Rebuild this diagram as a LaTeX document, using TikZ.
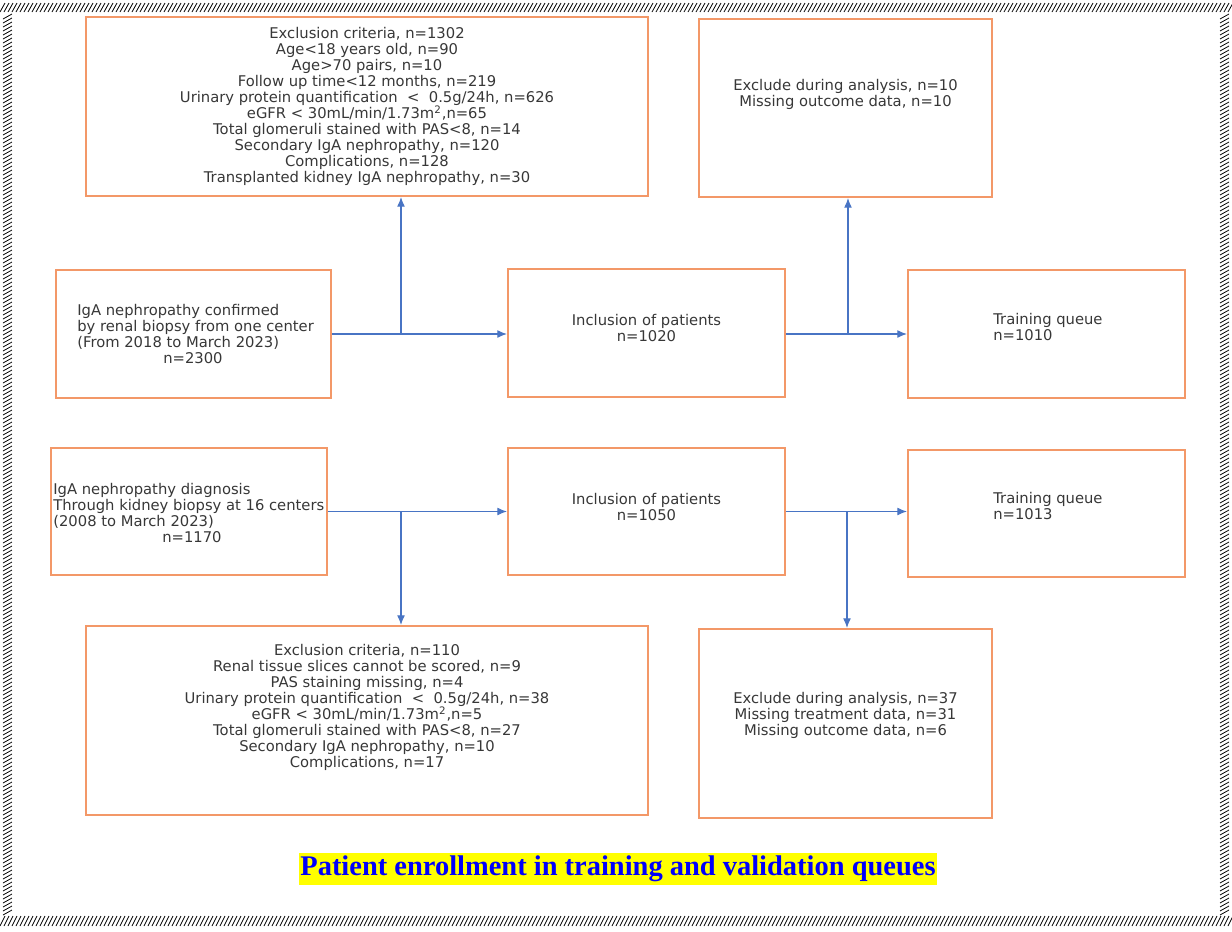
\documentclass[tikz,border=0pt]{standalone}
\usepackage{fontspec}
\setmainfont{DejaVu Sans}
\newfontfamily\titlefont{Liberation Serif}
\usetikzlibrary{arrows.meta}
\definecolor{boxorange}{RGB}{243,152,104}
\definecolor{arrowblue}{RGB}{72,116,196}
\definecolor{txtgrey}{RGB}{55,55,55}
\definecolor{titleblue}{RGB}{0,0,250}
\definecolor{titleyellow}{RGB}{255,255,0}
\tikzset{
  flowbox/.style={draw=boxorange, line width=1.2pt, inner sep=0pt},
  flowtext/.style={text=txtgrey, font=\fontsize{8.4}{9.1}\selectfont, align=center, inner sep=0pt},
  flowarrow/.style={draw=arrowblue, line width=0.6pt},
  hatch/.style={line width=0.45pt, black},
}
\begin{document}
\begin{tikzpicture}[>={Latex[length=5.5pt,width=4.5pt]}, x=0.02cm, y=-0.02cm]
\useasboundingbox (0,0) rectangle (1232,931);
% page border
\foreach \i in {0,4,...,1228} \draw [hatch] (\i,12)--(\i+5,3);
\foreach \i in {0,4,...,1228} \draw [hatch] (\i,926)--(\i+5,916);
\foreach \j in {14,18,...,910} \draw [hatch] (3,\j+5)--(12,\j);
\foreach \j in {14,18,...,910} \draw [hatch] (1220,\j+5)--(1229,\j);
% boxes
\node [flowbox, minimum width=11.24cm, minimum height=3.58cm] (excl1) at (367,106.5) {};
\node [flowbox, minimum width=5.86cm, minimum height=3.56cm] (anal1) at (845.5,108) {};
\node [flowbox, minimum width=5.5cm, minimum height=2.56cm] (src1) at (193.5,334) {};
\node [flowbox, minimum width=5.54cm, minimum height=2.56cm] (incl1) at (646.5,333) {};
\node [flowbox, minimum width=5.54cm, minimum height=2.56cm] (train1) at (1046.5,334) {};
\node [flowbox, minimum width=5.52cm, minimum height=2.54cm] (src2) at (189,511.5) {};
\node [flowbox, minimum width=5.54cm, minimum height=2.54cm] (incl2) at (646.5,511.5) {};
\node [flowbox, minimum width=5.54cm, minimum height=2.54cm] (train2) at (1046.5,513.5) {};
\node [flowbox, minimum width=11.24cm, minimum height=3.78cm] (excl2) at (367,720.5) {};
\node [flowbox, minimum width=5.86cm, minimum height=3.78cm] (anal2) at (845.5,723.5) {};
% texts
\node [flowtext] (excl1t) at (367,106) {Exclusion criteria, n=1302\\Age<18 years old, n=90\\Age>70 pairs, n=10\\Follow up time<12 months, n=219\\Urinary protein quantification \ < \ 0.5g/24h, n=626\\eGFR < 30mL/min/1.73m\textsuperscript{2},n=65\\Total glomeruli stained with PAS<8, n=14\\Secondary IgA nephropathy, n=120\\Complications, n=128\\Transplanted kidney IgA nephropathy, n=30};
\node [flowtext] (anal1t) at (845.5,94) {Exclude during analysis, n=10\\Missing outcome data, n=10};
\node [flowtext, anchor=west, align=left] (src1t) at (77,334) {IgA nephropathy confirmed\\by renal biopsy from one center\\(From 2018 to March 2023)\\\hspace*{1.72cm}n=2300};
\node [flowtext] (incl1t) at (646.5,328) {Inclusion of patients\\n=1020};
\node [flowtext, anchor=west, align=left] (train1t) at (993,327) {Training queue\\n=1010};
\node [flowtext, anchor=west, align=left] (src2t) at (53,513) {IgA nephropathy diagnosis\\Through kidney biopsy at 16 centers\\(2008 to March 2023)\\\hspace*{2.18cm}n=1170};
\node [flowtext] (incl2t) at (646.5,507) {Inclusion of patients\\n=1050};
\node [flowtext, anchor=west, align=left] (train2t) at (993,506) {Training queue\\n=1013};
\node [flowtext] (excl2t) at (367,707) {Exclusion criteria, n=110\\Renal tissue slices cannot be scored, n=9\\PAS staining missing, n=4\\Urinary protein quantification \ < \ 0.5g/24h, n=38\\eGFR < 30mL/min/1.73m\textsuperscript{2},n=5\\Total glomeruli stained with PAS<8, n=27\\Secondary IgA nephropathy, n=10\\Complications, n=17};
\node [flowtext] (anal2t) at (845.5,715) {Exclude during analysis, n=37\\Missing treatment data, n=31\\Missing outcome data, n=6};
% connectors
\coordinate (b1) at (401,334);
\coordinate (b2) at (848,334);
\coordinate (b3) at (401,511.5);
\coordinate (b4) at (847,512);
\draw [->, flowarrow] (src1.east)--(src1.east -| incl1.west);
\draw [->, flowarrow] (b1)--(b1 |- excl1.south);
\draw [->, flowarrow] (incl1.east |- train1.west)--(train1.west);
\draw [->, flowarrow] (b2)--(b2 |- anal1.south);
\draw [->, flowarrow] (src2.east)--(incl2.west);
\draw [->, flowarrow] (b3)--(b3 |- excl2.north);
\draw [->, flowarrow] (incl2.east)--(incl2.east -| train2.west);
\draw [->, flowarrow] (b4)--(b4 |- anal2.north);
% title
\node [fill=titleyellow, text=titleblue, font=\titlefont\bfseries\fontsize{16.2}{18}\selectfont, inner xsep=1pt, inner ysep=1.8pt] (title) at (618,869) {Patient enrollment in training and validation queues};
\end{tikzpicture}
\end{document}
